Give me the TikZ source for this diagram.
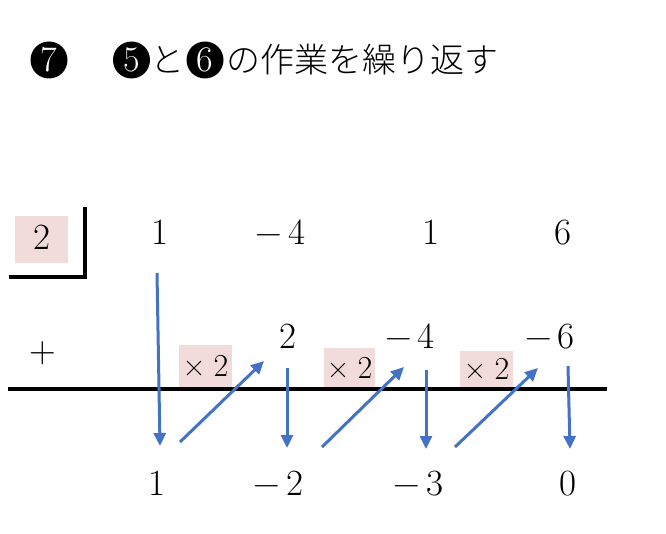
\documentclass[tikz,border=0pt]{standalone}
\usepackage{fontspec}
\newfontfamily\jpfont{Noto Sans CJK JP Light}
\usetikzlibrary{arrows.meta}
\definecolor{pinkbg}{HTML}{F2DCDB}
\definecolor{arrowblue}{HTML}{4472C4}
\tikzset{
  num/.style={inner sep=0pt, anchor=base, font=\fontsize{37}{40}\selectfont},
  smallnum/.style={inner sep=0pt, font=\fontsize{32}{34}\selectfont},
  pinkbox/.style={fill=pinkbg, inner sep=0pt},
  blackdot/.style={circle, fill=black, text=white, inner sep=0pt, minimum size=37pt, font=\fontsize{36}{38}\selectfont},
  jptext/.style={inner sep=0pt, anchor=base west, font=\jpfont\fontsize{34}{36}\selectfont},
  rule/.style={line width=4pt},
  flow/.style={arrowblue, line width=3pt, -{Triangle[length=13pt,width=12pt]}},
}
\begin{document}
\begin{tikzpicture}[x=1pt,y=-1pt]
\useasboundingbox (0,0) rectangle (666,534);
% heading
\node[blackdot] (c7) at (49,60) {7};
\node[blackdot] (c5) at (131.5,60) {5};
\node[jptext] (to) at (150,73) {と};
\node[blackdot] (c6) at (205,60) {6};
\node[jptext] (rest) at (226,73) {の作業を繰り返す};
% divisor box
\node[pinkbox, minimum width=53pt, minimum height=47pt] (divbox) at (41.5,239.5) {};
\node[num] (div) at (41.5,250) {2};
\draw[rule] (85,207) -- (85,277) coordinate (bc) -- (9,277);
% row 1
\node[num] (a1) at (160,245) {1};
\node[num] (a2) at (280.5,245) {−\,4};
\node[num] (a3) at (431,245) {1};
\node[num] (a4) at (563,245) {6};
% row 2
\node[num] (plus) at (43,362) {+};
\node[num] (b2) at (288,348) {2};
\node[num] (b3) at (410,348) {−\,4};
\node[num] (b4) at (550,348) {−\,6};
% x2 boxes
\node[pinkbox, minimum width=53pt, minimum height=42pt] (m1) at (205.5,366) {};
\node[smallnum] at (m1.center) {×\hspace{0.25em}2};
\node[pinkbox, minimum width=51pt, minimum height=39pt] (m2) at (349.5,367.5) {};
\node[smallnum] at (m2.center) {×\hspace{0.25em}2};
\node[pinkbox, minimum width=53pt, minimum height=36pt] (m3) at (486.5,369) {};
\node[smallnum] at (m3.center) {×\hspace{0.25em}2};
% main line
\coordinate (L0) at (8,388.5);
\coordinate (L1) at (607,388.5);
\draw[rule] (L0) -- (L1);
% row 3
\node[num] (c1) at (157,495) {1};
\node[num] (cc2) at (278.5,495) {−\,2};
\node[num] (cc3) at (418.5,495) {−\,3};
\node[num] (cc4) at (568,495) {0};
% arrow endpoints
\coordinate (p1s) at (157,273); \coordinate (p1e) at (160,446);
\coordinate (p2s) at (180,442); \coordinate (p2e) at (264,361);
\coordinate (p3s) at (287,368); \coordinate (p3e) at (287,448);
\coordinate (p4s) at (322,447); \coordinate (p4e) at (404,367);
\coordinate (p5s) at (426,370); \coordinate (p5e) at (426,449);
\coordinate (p6s) at (455,447); \coordinate (p6e) at (538,368);
\coordinate (p7s) at (568,366); \coordinate (p7e) at (570,449);
\draw[flow] (p1s) -- (p1e);
\draw[flow] (p2s) -- (p2e);
\draw[flow] (p3s) -- (p3e);
\draw[flow] (p4s) -- (p4e);
\draw[flow] (p5s) -- (p5e);
\draw[flow] (p6s) -- (p6e);
\draw[flow] (p7s) -- (p7e);
\end{tikzpicture}
\end{document}
